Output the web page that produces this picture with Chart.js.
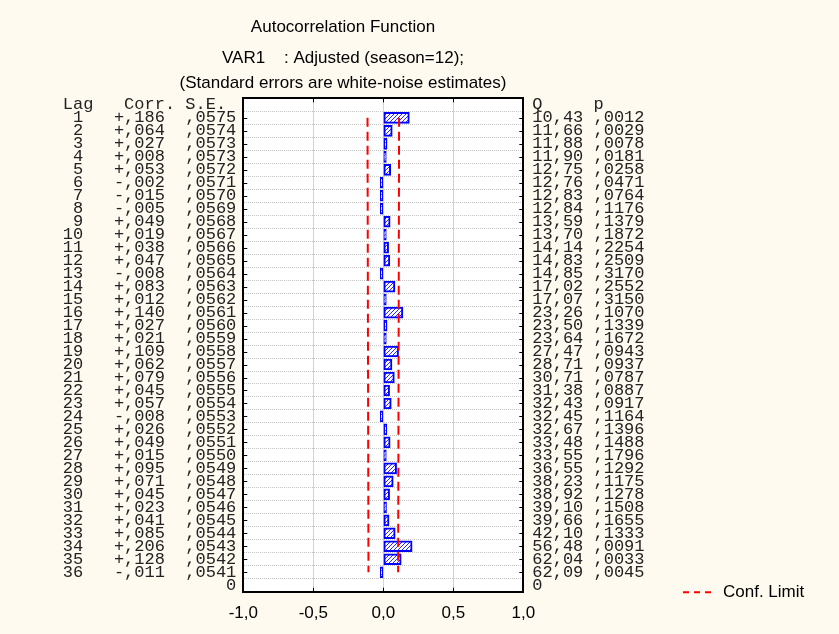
<!DOCTYPE html>
<html><head><meta charset="utf-8">
<script src="https://cdn.jsdelivr.net/npm/chart.js@4.4.0/dist/chart.umd.min.js"></script>
<style>html,body{margin:0;padding:0;background:#fffaf0;} canvas{display:block;}</style>
</head><body>
<canvas id="c" width="839" height="634"></canvas>
<script>
// ---- data ----
const lags = [1,2,3,4,5,6,7,8,9,10,11,12,13,14,15,16,17,18,19,20,21,22,23,24,25,26,27,28,29,30,31,32,33,34,35,36];
const corr = [0.186,0.064,0.027,0.008,0.053,-0.002,-0.015,-0.005,0.049,0.019,0.038,0.047,-0.008,0.083,0.012,0.140,0.027,0.021,0.109,0.062,0.079,0.045,0.057,-0.008,0.026,0.049,0.015,0.095,0.071,0.045,0.023,0.041,0.085,0.206,0.128,-0.011];
const stdErr = [0.0575,0.0574,0.0573,0.0573,0.0572,0.0571,0.0570,0.0569,0.0568,0.0567,0.0566,0.0565,0.0564,0.0563,0.0562,0.0561,0.0560,0.0559,0.0558,0.0557,0.0556,0.0555,0.0554,0.0553,0.0552,0.0551,0.0550,0.0549,0.0548,0.0547,0.0546,0.0545,0.0544,0.0543,0.0542,0.0541];
const qStat = [10.43,11.66,11.88,11.90,12.75,12.76,12.83,12.84,13.59,13.70,14.14,14.83,14.85,17.02,17.07,23.26,23.50,23.64,27.47,28.71,30.71,31.38,32.43,32.45,32.67,33.48,33.55,36.55,38.23,38.92,39.10,39.66,42.10,56.48,62.04,62.09];
const pValue = [0.0012,0.0029,0.0078,0.0181,0.0258,0.0471,0.0764,0.1176,0.1379,0.1872,0.2254,0.2509,0.3170,0.2552,0.3150,0.1070,0.1339,0.1672,0.0943,0.0937,0.0787,0.0887,0.0917,0.1164,0.1396,0.1488,0.1796,0.1292,0.1175,0.1278,0.1508,0.1655,0.1333,0.0091,0.0033,0.0045];
const confLimit = [0.1127,0.1125,0.1123,0.1123,0.1121,0.1119,0.1117,0.1115,0.1113,0.1111,0.1109,0.1107,0.1105,0.1103,0.1102,0.1100,0.1098,0.1096,0.1094,0.1092,0.1090,0.1088,0.1086,0.1084,0.1082,0.1080,0.1078,0.1076,0.1074,0.1072,0.1070,0.1068,0.1066,0.1064,0.1062,0.1060];
const xTickValues = [-1, -0.5, 0, 0.5, 1];
const leftHeader = 'Lag   Corr. S.E. ';
const rightHeader = 'Q     p';
const bottomLabel = '0';
const titleText = 'Autocorrelation Function';
const subtitleLines = ['VAR1    : Adjusted (season=12);', '(Standard errors are white-noise estimates)'];
const legendLabel = 'Conf. Limit';

// ---- formatting ----
const fmtCorr = v => (v < 0 ? '-' : '+') + ',' + String(Math.round(Math.abs(v) * 1000)).padStart(3, '0');
const fmt4 = v => ',' + String(Math.round(v * 10000)).padStart(4, '0');
const fmtQ = v => v.toFixed(2).replace('.', ',');
const leftLabels = lags.map((l, i) => String(l).padStart(2, ' ') + '   ' + fmtCorr(corr[i]) + '  ' + fmt4(stdErr[i]));
const rightLabels = lags.map((l, i) => fmtQ(qStat[i]) + ' ' + fmt4(pValue[i]));
const yMax = lags.length + 1;

function makeTickCb(header, labels) {
  return function (value) {
    if (value === 0) return header;
    if (value === yMax) return bottomLabel;
    const i = lags.indexOf(value);
    return i >= 0 ? labels[i] : '';
  };
}

// ---- hatch pattern ----
const pc = document.createElement('canvas');
pc.width = 4; pc.height = 4;
const pctx = pc.getContext('2d');
pctx.fillStyle = '#ffffff'; pctx.fillRect(0, 0, 4, 4);
pctx.strokeStyle = '#2a2aff'; pctx.lineWidth = 1;
pctx.beginPath();
pctx.moveTo(0, 4); pctx.lineTo(4, 0);
pctx.moveTo(-1, 1); pctx.lineTo(1, -1);
pctx.moveTo(3, 5); pctx.lineTo(5, 3);
pctx.stroke();
const hatch = document.getElementById('c').getContext('2d').createPattern(pc, 'repeat');

const SANS = "'Liberation Sans', Arial, sans-serif";
const MONO = "'Liberation Mono', 'Courier New', monospace";
const CREAM = '#fffaf0';

const bgPlugin = {
  id: 'bg',
  beforeDraw(chart) {
    const { ctx, chartArea: a } = chart;
    ctx.save();
    ctx.fillStyle = CREAM;
    ctx.fillRect(0, 0, chart.width, chart.height);
    ctx.fillStyle = '#ffffff';
    ctx.fillRect(a.left, a.top, a.right - a.left, a.bottom - a.top);
    ctx.restore();
  }
};

const innerTicks = {
  id: 'innerTicks',
  afterDraw(chart) {
    const { ctx, chartArea: a, scales } = chart;
    ctx.save();
    ctx.strokeStyle = '#000'; ctx.lineWidth = 1;
    ctx.beginPath();
    lags.forEach(l => {
      const y = Math.round(scales.y.getPixelForValue(l)) + 0.5;
      ctx.moveTo(a.left, y); ctx.lineTo(a.left + 4, y);
      ctx.moveTo(a.right - 4, y); ctx.lineTo(a.right, y);
    });
    xTickValues.slice(1, -1).forEach(v => {
      const x = Math.round(scales.x.getPixelForValue(v)) + 0.5;
      ctx.moveTo(x, a.top); ctx.lineTo(x, a.top + 4);
      ctx.moveTo(x, a.bottom - 4); ctx.lineTo(x, a.bottom);
    });
    ctx.stroke();
    ctx.restore();
  }
};

const legendPlugin = {
  id: 'customLegend',
  afterDraw(chart) {
    const { ctx, chartArea: a } = chart;
    const ds = chart.data.datasets[0];
    const x0 = chart.width - 156;
    const y = a.bottom + 0.5;
    ctx.save();
    ctx.strokeStyle = ds.borderColor; ctx.lineWidth = ds.borderWidth;
    ctx.setLineDash([6, 5]);
    ctx.beginPath(); ctx.moveTo(x0, y); ctx.lineTo(x0 + 30, y); ctx.stroke();
    ctx.setLineDash([]);
    ctx.fillStyle = '#000';
    ctx.font = '17px ' + SANS;
    ctx.textBaseline = 'middle';
    ctx.fillText(ds.label, x0 + 40, y);
    ctx.restore();
  }
};

new Chart(document.getElementById('c'), {
  type: 'bar',
  data: {
    datasets: [
      { type: 'line', indexAxis: 'y', label: legendLabel, data: lags.map((l, i) => ({ x: confLimit[i], y: l })),
        borderColor: '#ff0000', borderWidth: 2, borderDash: [9, 5], pointRadius: 0, fill: false, tension: 0, order: 0 },
      { type: 'line', indexAxis: 'y', label: legendLabel, data: lags.map((l, i) => ({ x: -confLimit[i], y: l })),
        borderColor: '#ff0000', borderWidth: 2, borderDash: [9, 5], pointRadius: 0, fill: false, tension: 0, order: 0 },
      { type: 'bar', label: 'Corr.', data: lags.map((l, i) => ({ x: corr[i], y: l })),
        backgroundColor: hatch, borderColor: '#0000ff', borderWidth: 2, borderSkipped: false,
        barThickness: 11, minBarLength: 3, order: 1 }
    ]
  },
  options: {
    responsive: false,
    animation: false,
    indexAxis: 'y',
    layout: { padding: { left: 0, right: 153, top: 0, bottom: 0 } },
    plugins: {
      legend: { display: false },
      tooltip: { enabled: false },
      title: { display: true, text: titleText, color: '#000', font: { family: SANS, size: 17, weight: 'normal', lineHeight: 1.2 }, padding: { top: 17, bottom: 0 } },
      subtitle: { display: true, text: subtitleLines, color: '#000', font: { family: SANS, size: 17, weight: 'normal', lineHeight: '25px' }, padding: { top: 8, bottom: 3 } }
    },
    scales: {
      x: {
        type: 'linear', position: 'bottom', min: -1, max: 1,
        afterBuildTicks: s => { s.ticks = xTickValues.map(v => ({ value: v })); },
        afterFit: s => { s.height = 42.3; },
        ticks: { color: '#000', font: { family: SANS, size: 17 }, padding: 11, callback: v => v.toFixed(1).replace('.', ',') },
        grid: { color: '#a8a8a8', lineWidth: 1, drawTicks: false },
        border: { display: true, color: '#000', width: 2, dash: [1, 1] }
      },
      x2: {
        type: 'linear', position: 'top', min: -1, max: 1,
        ticks: { display: false },
        grid: { display: false, drawTicks: false },
        border: { display: true, color: '#000', width: 2 }
      },
      y: {
        type: 'linear', position: 'left', min: 0, max: yMax, reverse: true,
        afterFit: s => { s.width = 243.3; },
        ticks: { stepSize: 1, autoSkip: false, color: '#222', padding: 7, font: { family: MONO, size: 17, lineHeight: 1 }, callback: makeTickCb(leftHeader, leftLabels) },
        grid: { color: '#c4c4c4', lineWidth: 1, drawTicks: false },
        border: { display: true, color: '#000', width: 2, dash: [1, 1] }
      },
      y2: {
        type: 'linear', position: 'right', min: 0, max: yMax, reverse: true,
        afterFit: s => { s.width = 162.7; },
        ticks: { stepSize: 1, autoSkip: false, color: '#222', padding: 9, font: { family: MONO, size: 17, lineHeight: 1 }, callback: makeTickCb(rightHeader, rightLabels) },
        grid: { display: false, drawTicks: false },
        border: { display: true, color: '#000', width: 2 }
      }
    }
  },
  plugins: [bgPlugin, innerTicks, legendPlugin]
});
</script>
</body></html>
